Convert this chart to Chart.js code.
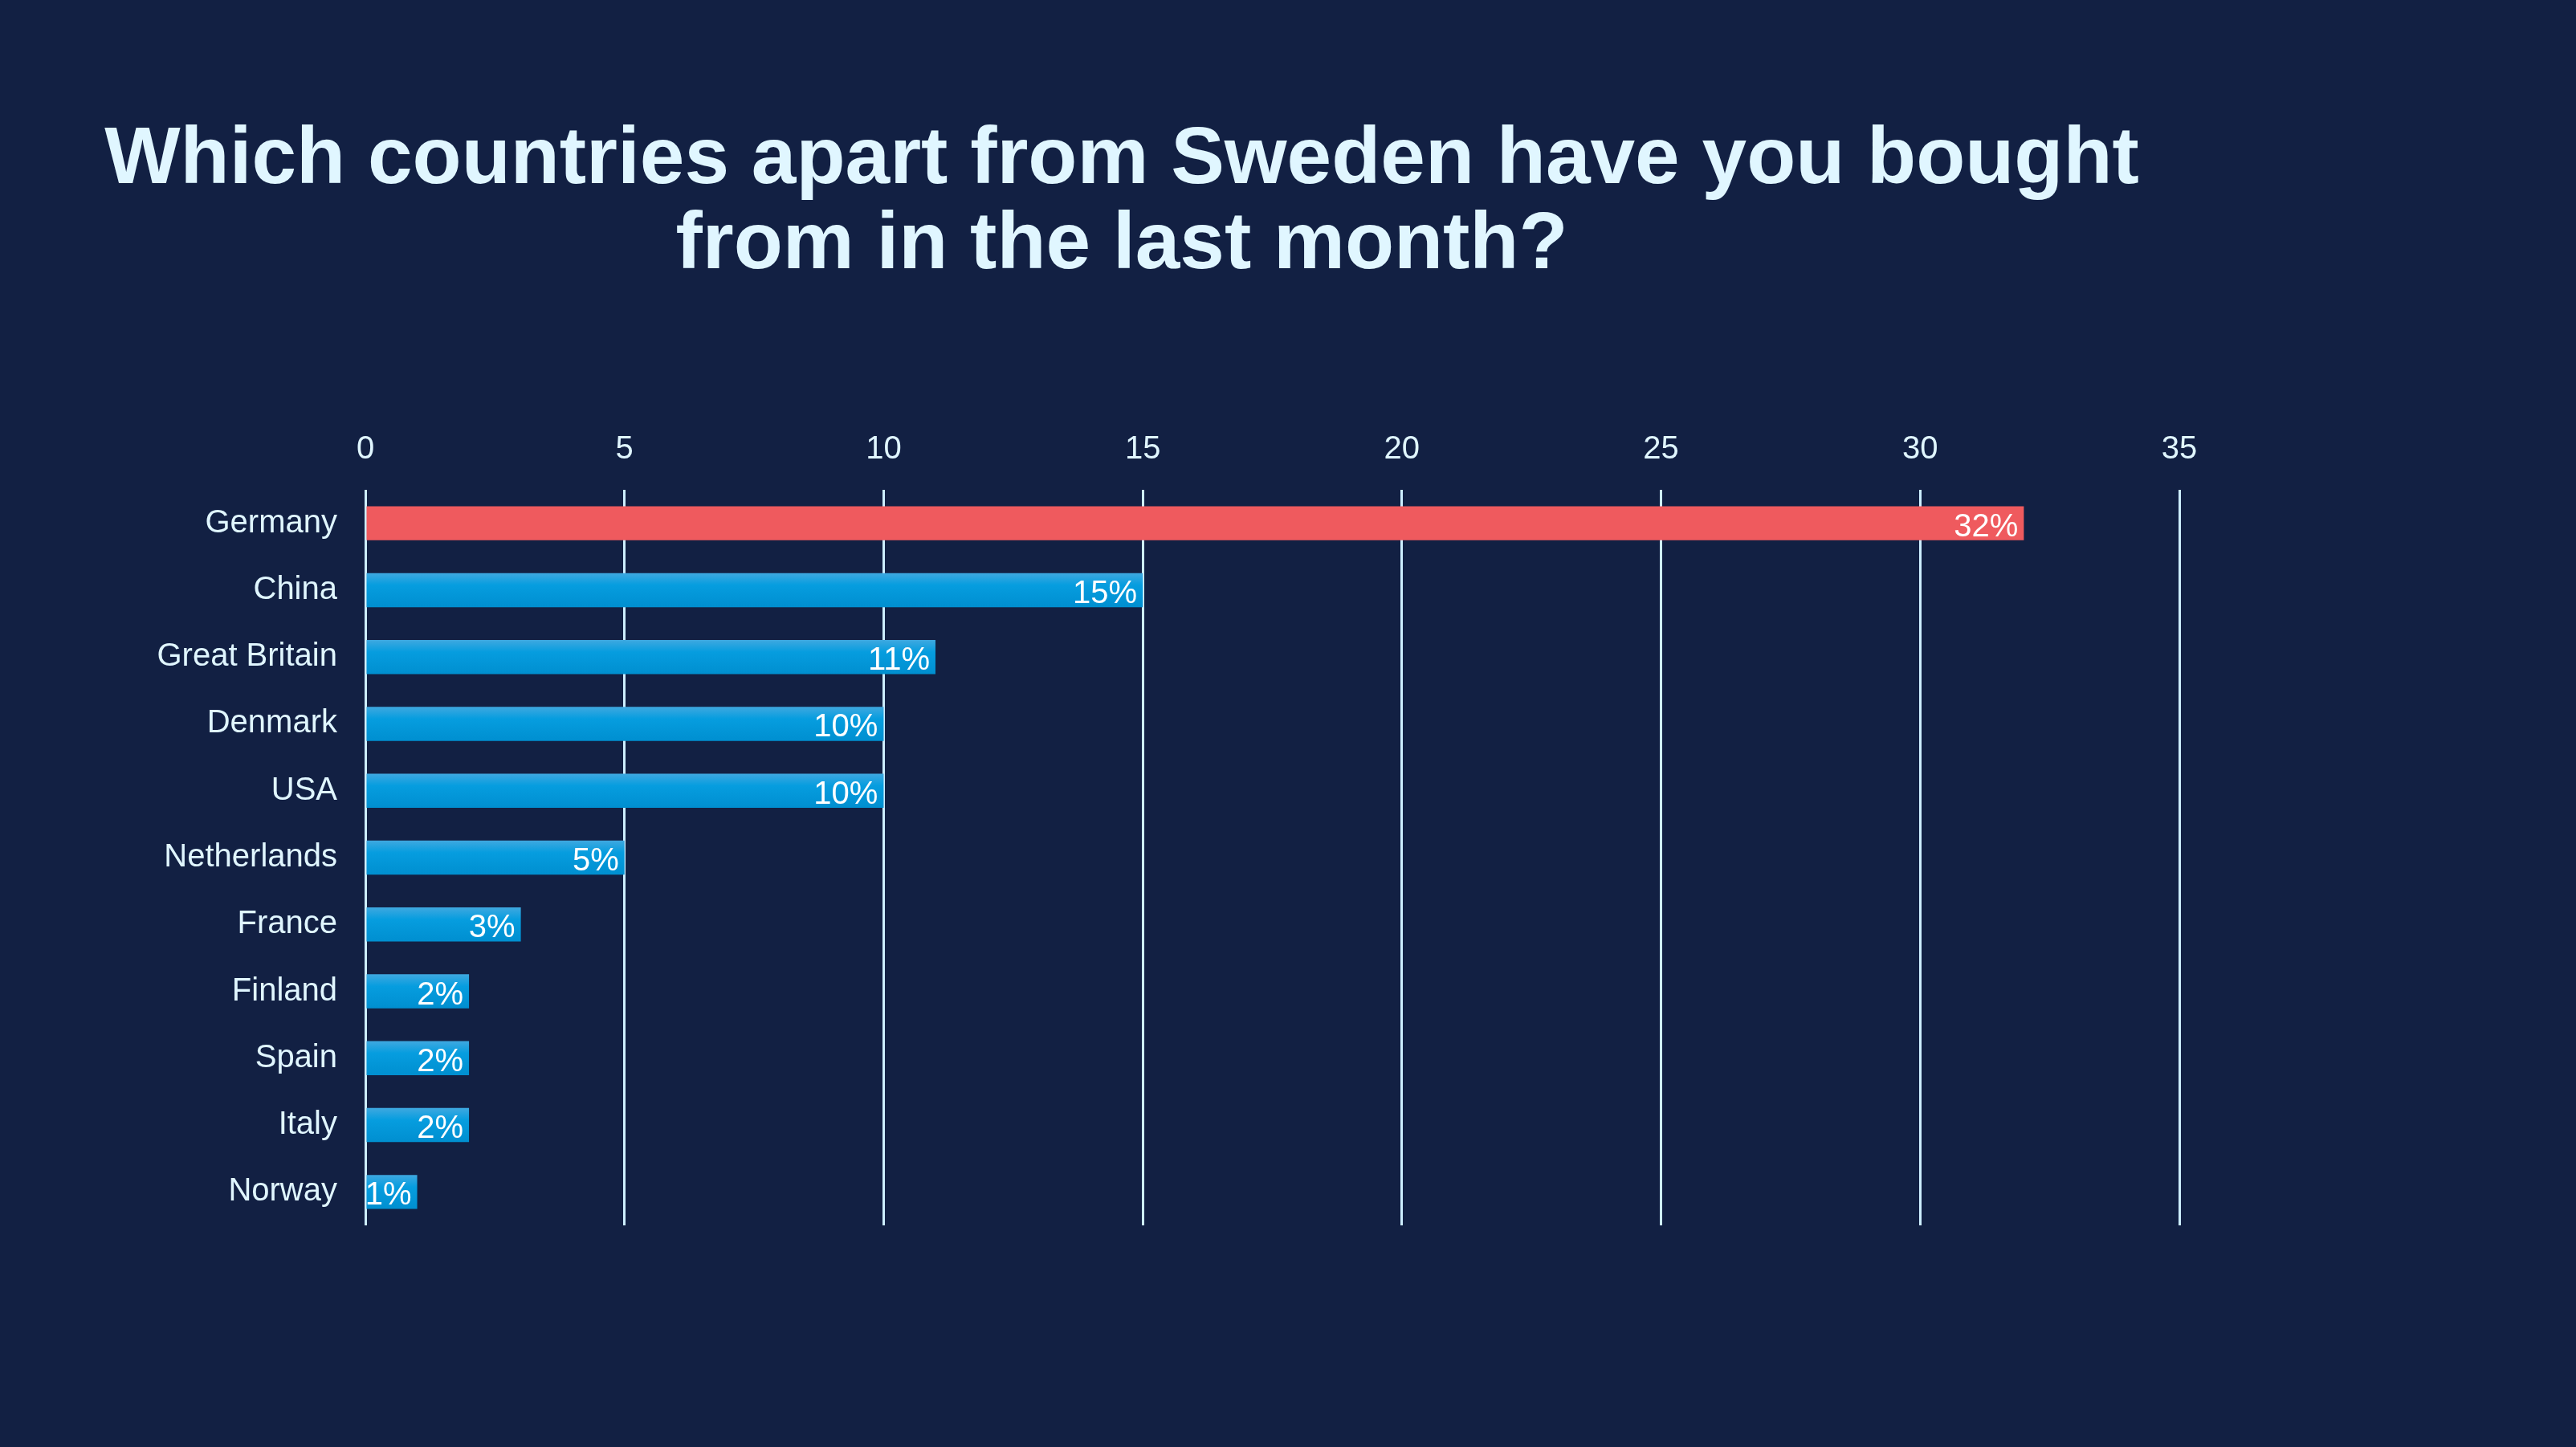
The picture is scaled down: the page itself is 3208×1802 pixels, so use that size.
<!DOCTYPE html>
<html>
<head>
<meta charset="utf-8">
<script src="https://cdn.jsdelivr.net/npm/chart.js@4/dist/chart.umd.min.js"></script>
<style>
  html, body { margin: 0; padding: 0; background: #122043; }
  #wrap { width: 3208px; height: 1802px; position: relative; }
</style>
</head>
<body>
<div id="wrap"><canvas id="countryChart"></canvas></div>
<script>
// Survey data - share of respondents per country (%)
const countries = ['Germany', 'China', 'Great Britain', 'Denmark', 'USA', 'Netherlands', 'France', 'Finland', 'Spain', 'Italy', 'Norway'];
const shares = [32, 15, 11, 10, 10, 5, 3, 2, 2, 2, 1];
const axisMax = 35;   // last tick on the top axis
const axisStep = 5;   // 0, 5, 10 ... 35

const textColor = '#e0f6ff';
const gridColor = '#cdeeff';
const font = 'Liberation Sans, Arial, Helvetica, sans-serif';

// vertical gradient for the blue bars, worked out from the bar's own band
function barColor(ctx) {
  if (ctx.dataIndex === 0) return '#ef5a5e'; // Germany highlighted
  const chart = ctx.chart;
  const y = chart.scales.y;
  if (!y || ctx.dataIndex === undefined) return '#059ddf';
  const cy = y.getPixelForValue(ctx.dataIndex);
  const g = chart.ctx.createLinearGradient(0, cy - 21, 0, cy + 21);
  g.addColorStop(0, '#3ea8e0');
  g.addColorStop(0.35, '#069ddf');
  g.addColorStop(1, '#008fd0');
  return g;
}

// percent labels at the inside end of each bar
const valueLabels = {
  id: 'valueLabels',
  afterDatasetsDraw(chart) {
    const c = chart.ctx;
    const meta = chart.getDatasetMeta(0);
    c.save();
    c.font = '40px ' + font;
    c.fillStyle = '#ffffff';
    c.textAlign = 'right';
    c.textBaseline = 'alphabetic';
    meta.data.forEach((bar, i) => {
      c.fillText(shares[i] + '%', bar.x - 7, bar.y + 16);
    });
    c.restore();
  }
};

new Chart(document.getElementById('countryChart'), {
  type: 'bar',
  data: {
    labels: countries,
    datasets: [{
      data: shares,
      backgroundColor: barColor,
      borderWidth: 0,
      categoryPercentage: 1,
      barPercentage: 0.51
    }]
  },
  options: {
    indexAxis: 'y',
    responsive: true,
    maintainAspectRatio: false,
    animation: false,
    devicePixelRatio: 1,
    layout: { padding: { top: 147, left: 80, right: 494, bottom: 276 } },
    plugins: {
      legend: { display: false },
      tooltip: { enabled: false },
      title: {
        display: true,
        text: ['Which countries apart from Sweden have you bought', 'from in the last month?'],
        color: textColor,
        font: { family: font, size: 100, weight: 'bold', lineHeight: 1.06 },
        padding: { top: 0, bottom: 0 }
      }
    },
    scales: {
      x: {
        position: 'top',
        min: 0,
        max: axisMax,
        ticks: { stepSize: axisStep, color: textColor, font: { family: font, size: 40 }, padding: 26 },
        grid: { color: gridColor, lineWidth: 3, drawTicks: false },
        border: { display: false },
        afterFit(scale) { scale.height = 251; }
      },
      y: {
        ticks: { color: textColor, font: { family: font, size: 40 }, padding: 35 },
        grid: { display: false, drawTicks: false },
        border: { display: false },
        afterFit(scale) { scale.width = 375; }
      }
    }
  },
  plugins: [valueLabels]
});
</script>
</body>
</html>
